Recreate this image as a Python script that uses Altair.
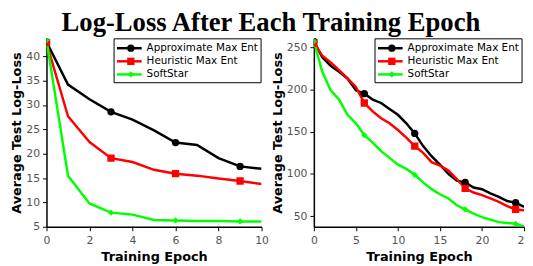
import altair as alt
import pandas as pd

series = ["Approximate Max Ent", "Heuristic Max Ent", "SoftStar"]
colors = ["#000000", "#ff0000", "#00ff00"]
shapes = ["circle", "square", "diamond"]
sizes = [55, 55, 40]

left_epochs = list(range(11))
left_approx = [43.0, 34.2, 31.2, 28.6, 27.0, 24.8, 22.3, 21.8, 19.1, 17.4, 16.9]
left_heur = [42.8, 27.7, 22.4, 19.1, 18.3, 16.7, 15.9, 15.5, 14.9, 14.4, 13.8]
left_soft = [43.3, 15.5, 9.8, 7.9, 7.5, 6.4, 6.3, 6.2, 6.2, 6.1, 6.1]

right_epochs = list(range(26))
right_approx = [257, 238, 228, 221, 213, 199, 195, 188, 184, 177, 170, 160, 148,
                133, 121, 111, 100, 92, 90, 84, 82, 77, 73, 68, 66, 61]
right_heur = [255, 240, 232, 223, 213, 203, 184, 174, 166, 160, 152, 143, 133,
              125, 114, 110, 104, 94, 83, 78, 75, 71, 67, 62, 58, 57]
right_soft = [257, 221, 199, 188, 170, 160, 146, 137, 127, 119, 111, 106, 99,
              90, 82, 76, 71, 63, 58, 53, 49, 46, 43, 42, 41, 38]

left_xticks = [0, 2, 4, 6, 8, 10]
left_yticks = [5, 10, 15, 20, 25, 30, 35, 40]
right_xticks = [0, 5, 10, 15, 20, 25]
right_yticks = [50, 100, 150, 200, 250]


def panel(xs, ys_list, step, xdom, xticks, ydom, yticks, w, h, leg_x0):
    x_enc = alt.X("epoch:Q", scale=alt.Scale(domain=xdom, nice=False),
                  axis=alt.Axis(values=xticks, title="Training Epoch"))
    y_enc = alt.Y("loss:Q", scale=alt.Scale(domain=ydom, nice=False, zero=False),
                  axis=alt.Axis(values=yticks, title="Average Test Log-Loss"))
    layers = []
    for name, ys, col in zip(series, ys_list, colors):
        df = pd.DataFrame({"epoch": xs, "loss": ys, "series": name})
        layers.append(alt.Chart(df).mark_line(color=col, strokeWidth=2.5, clip=True)
                      .encode(x=x_enc, y=y_enc))
    for name, ys, col, shp, sz in zip(series, ys_list, colors, shapes, sizes):
        df = pd.DataFrame({"epoch": xs, "loss": ys, "series": name})
        df = df[df["epoch"] % step == 0]
        layers.append(alt.Chart(df).mark_point(color=col, filled=True, opacity=1,
                                               shape=shp, size=sz, clip=True)
                      .encode(x=x_enc, y=y_enc))
    # legend box
    box = pd.DataFrame({"k": [0]})
    layers.append(alt.Chart(box).mark_rect(fill="white", stroke="black", strokeWidth=1)
                  .encode(x=alt.value(leg_x0), x2=alt.value(leg_x0 + 149),
                          y=alt.value(0.5), y2=alt.value(45)))
    for i, (name, col, shp, sz) in enumerate(zip(series, colors, shapes, sizes)):
        row = pd.DataFrame({"series": [name]})
        ry = 10 + 13.3 * i
        layers.append(alt.Chart(row).mark_rule(color=col, strokeWidth=2.5)
                      .encode(x=alt.value(leg_x0 + 3), x2=alt.value(leg_x0 + 28),
                              y=alt.value(ry)))
        layers.append(alt.Chart(row).mark_point(color=col, filled=True, opacity=1,
                                                shape=shp, size=sz)
                      .encode(x=alt.value(leg_x0 + 17), y=alt.value(ry)))
        layers.append(alt.Chart(row).mark_text(align="left", baseline="middle",
                                               font="DejaVu Sans", fontSize=10.5,
                                               color="black")
                      .encode(x=alt.value(leg_x0 + 33), y=alt.value(ry),
                              text=alt.Text("series:N")))
    return alt.layer(*layers).properties(width=w, height=h)


left = panel(left_epochs, [left_approx, left_heur, left_soft], 3,
             [0, 10], left_xticks, [5, 43.7], left_yticks, 218, 191, 68.5)
right = panel(right_epochs, [right_approx, right_heur, right_soft], 6,
              [0, 25], right_xticks, [37.5, 260.5], right_yticks, 213, 191, 62)

chart = alt.hconcat(left, right, spacing=3).properties(
    title=alt.TitleParams("Log-Loss After Each Training Epoch", font="Liberation Serif",
                          fontSize=27, fontWeight="bold", anchor="middle", color="black",
                          offset=1),
    padding={"left": 3, "top": 0, "right": -6, "bottom": 0},
).configure_axis(
    labelFont="DejaVu Sans", labelFontSize=11, labelColor="#555555",
    titleFont="DejaVu Sans", titleFontSize=13, titleFontWeight="bold", titleColor="black",
    domainColor="black", domainWidth=1.5, tickColor="black", tickSize=4, tickWidth=1,
    grid=False, labelFlush=False,
).configure_axisX(
    labelPadding=4, titlePadding=5,
).configure_axisY(
    labelPadding=3, titlePadding=2,
).configure_view(stroke=None)

chart.save("out.html", embed_options={"renderer": "svg", "actions": False})
